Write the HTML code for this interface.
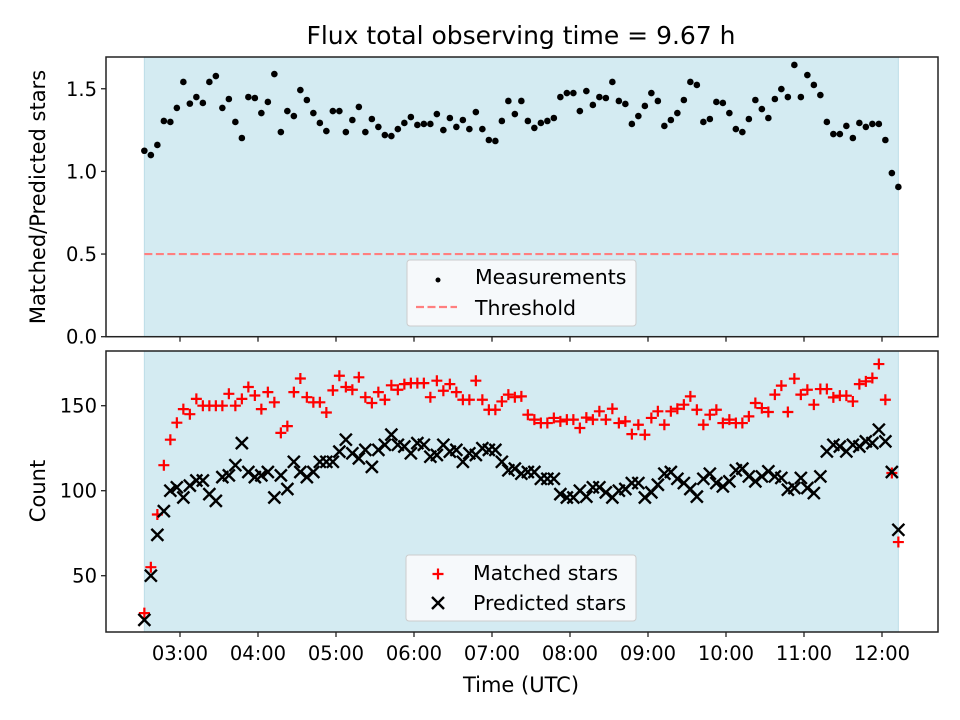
<!DOCTYPE html>
<html><head><meta charset="utf-8"><style>html,body{margin:0;padding:0;background:#fff}svg{display:block}text{font-family:"DejaVu Sans","Liberation Sans",sans-serif;fill:#000}</style></head>
<body>
<svg id="fig" width="960" height="720" viewBox="0 0 960 720" xmlns="http://www.w3.org/2000/svg">
<rect width="960" height="720" fill="#fff"/>
<text x="521" y="44" font-size="25" text-anchor="middle">Flux total observing time = 9.67 h</text>
<g id="topPanel"></g>
<g id="botPanel"></g>
<text x="521" y="692" font-size="21" text-anchor="middle">Time (UTC)</text>
<text transform="translate(45,197) rotate(-90)" font-size="21" text-anchor="middle">Matched/Predicted stars</text>
<text transform="translate(45,491) rotate(-90)" font-size="21" text-anchor="middle">Count</text>
</svg>
<script>
const startHour = 2.543;
const stepHours = 5/60;
const ratio = [1.125,1.099,1.16,1.305,1.299,1.384,1.541,1.41,1.45,1.414,1.541,1.577,1.384,1.438,1.299,1.202,1.45,1.444,1.353,1.42,1.589,1.238,1.365,1.335,1.492,1.432,1.353,1.293,1.244,1.365,1.365,1.238,1.311,1.39,1.238,1.317,1.269,1.22,1.214,
1.256,1.293,1.329,1.281,1.287,1.287,1.347,1.25,1.323,1.269,1.311,1.256,1.359,1.256,1.19,1.184,1.305,1.426,1.347,1.426,1.305,1.263,1.293,1.305,1.323,1.45,1.474,1.474,1.365,1.486,1.402,1.45,1.444,1.541,1.426,1.408,1.287,1.335,1.396,
1.474,1.426,1.275,1.311,1.353,1.432,1.541,1.523,1.299,1.317,1.42,1.414,1.353,1.256,1.238,1.317,1.432,1.377,1.323,1.438,1.498,1.45,1.644,1.45,1.583,1.523,1.462,1.299,1.226,1.226,1.275,1.202,1.293,1.269,1.287,1.287,1.19,0.99,0.906];
const matched = [28,55,86,115,130,140,148,145,154,150,150,150,150,157,150,154,161,156,148,158,152,134,138,158,166,155,152,152,146,159,
167.6,161,159.4,166.7,155,151.6,158,153.5,162,159.4,162.7,163.3,163.3,163.3,155,164.7,158.8,162.7,158,153.5,153.5,164.7,153.5,147.6,147.6,152.5,156.5,155,155.5,144.7,
141.8,139.8,139.8,142.8,140.8,141.8,141.8,136.9,143,141.8,146.7,141.8,148.2,139.8,140.8,133.3,138.8,132.9,142.8,146.7,138.8,146.7,148.2,150.6,155.5,147.6,138.8,144.7,147.6,139.8,
141.8,139.8,139.8,143.7,151.6,148.6,146.3,156.5,161.8,146.3,165.9,156.5,159.4,150.6,159.8,159.8,154.9,155.9,155.9,152.5,162.7,164.3,166.3,174.5,153.5,110.4,69.8];
const predicted = [24,50,74,88,100,102,96,103,106,106,98,94,108,109,115,128,111,108,109,111,96,109,101,117,111,108,111,117,117,117,
123,130,122,119,124,114,124,127,133,127,126,122,128,127,120,121,127,123,124,117,122,121,125,124,124,117,112,113,110,111,
111,107,107,107,98,96,96,100,96.5,102,102,99,96,100,101,104.5,104.5,96,99,103.5,110,111,107,104.5,101,96.5,107,110,104.5,102.5,
105.5,112,113,108.4,105.5,108.4,111.4,108.4,107.5,100.6,101.6,107.5,101.6,98.6,108.4,123.1,127,126,123.1,127,126,129,128,135.9,129,111,77];
const topTicks = [0.0,0.5,1.0,1.5];
const topTickLabels = ["0.0","0.5","1.0","1.5"];
const botTicks = [50,100,150];
const botTickLabels = ["50","100","150"];
const xTicks = [3,4,5,6,7,8,9,10,11,12];
const xTickLabels = ["03:00","04:00","05:00","06:00","07:00","08:00","09:00","10:00","11:00","12:00"];
const threshold = 0.5;

const NS="http://www.w3.org/2000/svg";
const L=106,R=938;
const xs=h=>180+(h-3)*78;
const yTop=v=>336.7-v*165.3;
const yBot=v=>490.7-(v-100)*1.7;
function mk(p,tag,a){const e=document.createElementNS(NS,tag);for(const k in a)e.setAttribute(k,a[k]);p.appendChild(e);return e;}
const topG=document.getElementById('topPanel'),botG=document.getElementById('botPanel');
const times=ratio.map((_,i)=>startHour+i*stepHours);
const x0=xs(times[0]),x1=xs(times[times.length-1]);

function frame(g,y0,y1,name){
  const s=mk(g,'rect',{x:x0,y:y0,width:x1-x0,height:y1-y0,fill:'#d4ebf2',stroke:'#bcdde8','stroke-width':1});
  
  
  xTicks.forEach((t,i)=>{const tk=mk(g,'line',{x1:xs(t),x2:xs(t),y1:y1,y2:y1+5,stroke:'#222','stroke-width':1.3});
    
    });
}
function border(g,y0,y1,name){
  const b=mk(g,'rect',{x:L,y:y0,width:R-L,height:y1-y0,fill:'none',stroke:'#222','stroke-width':1.5});
  
  
}
function yaxis(g,ticks,labels,fy,name){
  ticks.forEach((v,i)=>{const y=fy(v);
    const tk=mk(g,'line',{x1:L-5,x2:L,y1:y,y2:y,stroke:'#222','stroke-width':1.3});
    
    
    const t=mk(g,'text',{x:L-9,y:y+7,'font-size':19.5,'text-anchor':'end'});t.textContent=labels[i];
    
    });
}
frame(topG,57,336.7,'top');
const th=mk(topG,'line',{x1:x0,x2:x1,y1:yTop(threshold),y2:yTop(threshold),stroke:'#ff7f7f','stroke-width':2.2,'stroke-dasharray':'8,3.5'});


ratio.forEach((v,i)=>{const c=mk(topG,'circle',{cx:xs(times[i]),cy:yTop(v),r:3.3,fill:'#000'});
  
  });
border(topG,57,336.7,'top');
yaxis(topG,topTicks,topTickLabels,yTop,'top');
(function(){const g=mk(topG,'g',{});
 mk(g,'rect',{x:407,y:260,width:229,height:66,rx:3,fill:'#f6f9fb',stroke:'#ccc','stroke-width':1});
 mk(g,'circle',{cx:438,cy:280,r:2.5,fill:'#000'});
 let t=mk(g,'text',{x:475,y:284,'font-size':20.5});t.textContent='Measurements';
 mk(g,'line',{x1:416,x2:457,y1:307,y2:307,stroke:'#ff7f7f','stroke-width':2.2,'stroke-dasharray':'8,3.5'});
 t=mk(g,'text',{x:475,y:315,'font-size':20.5});t.textContent='Threshold';})();
frame(botG,351,632,'bottom');
function plus(g,x,y,name){const p=mk(g,'path',{d:`M${x-5.5},${y}h11M${x},${y-5.5}v11`,stroke:'#ff0000','stroke-width':2.2,fill:'none'});
  }
function cross(g,x,y,name){const p=mk(g,'path',{d:`M${x-6},${y-6}l12,12M${x-6},${y+6}l12,-12`,stroke:'#000','stroke-width':2.4,fill:'none'});
  }
matched.forEach((v,i)=>plus(botG,xs(times[i]),yBot(v),'matched-star-point'));
predicted.forEach((v,i)=>cross(botG,xs(times[i]),yBot(v),'predicted-star-point'));
border(botG,351,632,'bottom');
yaxis(botG,botTicks,botTickLabels,yBot,'bottom');
xTicks.forEach((t,i)=>{const e=mk(botG,'text',{x:xs(t),y:660,'font-size':19.5,'text-anchor':'middle'});e.textContent=xTickLabels[i];
  
  });
(function(){const g=mk(botG,'g',{});
 mk(g,'rect',{x:406,y:555,width:230,height:66,rx:3,fill:'#f6f9fb',stroke:'#ccc','stroke-width':1});
 plus(g,438,574,'legend-matched-marker');
 let t=mk(g,'text',{x:473,y:580,'font-size':20.5});t.textContent='Matched stars';
 cross(g,438,603,'legend-predicted-marker');
 t=mk(g,'text',{x:473,y:610,'font-size':20.5});t.textContent='Predicted stars';})();
</script>
</body></html>
